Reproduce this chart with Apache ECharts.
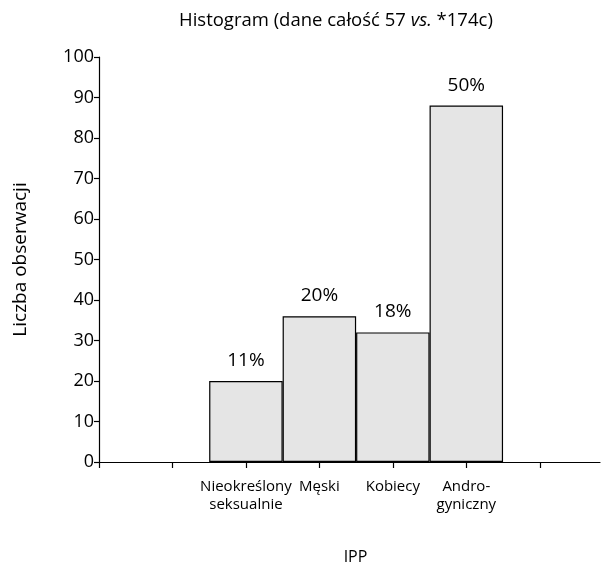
<!DOCTYPE html>
<html>
<head>
<meta charset="utf-8">
<script src="https://cdn.jsdelivr.net/npm/echarts@6/dist/echarts.min.js"></script>
<style>html,body{margin:0;padding:0;background:#fff;}#chart{width:604px;height:570px;}</style>
</head>
<body>
<div id="chart"></div>
<script>
var categories = ['', '', 'Nieokreślony\nseksualnie', 'Męski', 'Kobiecy', 'Andro-\ngyniczny', ''];
var binPositions = [2, 3, 4, 5];
var counts = [20, 36, 32, 88];
var percentLabels = ['11%', '20%', '18%', '50%'];
var yTicks = [0, 10, 20, 30, 40, 50, 60, 70, 80, 90, 100];

var FONT = '"Open Sans", "Noto Sans", sans-serif';
var chart = echarts.init(document.getElementById('chart'));
var seriesData = binPositions.map(function (p, i) { return [p, counts[i]]; });

chart.setOption({
  animation: false,
  backgroundColor: '#ffffff',
  title: {
    text: '{n|Histogram (dane całość 57 }{i|vs.}{n| *174c)}',
    left: 174, top: 6,
    textStyle: {
      rich: {
        n: { fontFamily: FONT, fontSize: 18.5, color: '#000', fontWeight: 'normal' },
        i: { fontFamily: FONT, fontSize: 18.5, color: '#000', fontStyle: 'italic', fontWeight: 'normal' }
      }
    }
  },
  grid: { left: 99, right: 4, top: 57, bottom: 108, containLabel: false },
  xAxis: {
    type: 'value', min: 0, max: 6.82, interval: 1,
    name: 'IPP', nameLocation: 'middle', nameGap: 87,
    nameTextStyle: { fontFamily: FONT, fontSize: 16, color: '#000', padding: [0, 0, 0, 12] },
    axisLine: { show: true, lineStyle: { color: '#000', width: 1.2 } },
    axisTick: { show: true, length: 6, lineStyle: { color: '#000', width: 1.2 }, customValues: [0,1,2,3,4,5,6] },
    axisLabel: {
      customValues: [0,1,2,3,4,5,6],
      formatter: function (v) { return categories[Math.round(v)] || ''; },
      fontFamily: FONT, fontSize: 15, color: '#000', margin: 15, lineHeight: 18.5
    },
    splitLine: { show: false }
  },
  yAxis: {
    type: 'value', min: 0, max: 100, interval: 10,
    name: 'Liczba obserwacji', nameLocation: 'middle', nameGap: 69, nameRotate: 90,
    nameTextStyle: { fontFamily: FONT, fontSize: 19, color: '#000' },
    axisLine: { show: true, lineStyle: { color: '#000', width: 1.2 } },
    axisTick: { show: true, length: 5, lineStyle: { color: '#000', width: 1.2 } },
    axisLabel: { fontFamily: FONT, fontSize: 18, color: '#000', margin: 5 },
    splitLine: { show: false }
  },
  series: [{
    type: 'bar',
    data: seriesData,
    barWidth: 73.5,
    itemStyle: { color: '#e5e5e5', borderColor: '#000', borderWidth: 1.2 },
    label: {
      show: true, position: 'top', distance: 11,
      formatter: function (p) { return percentLabels[p.dataIndex]; },
      fontFamily: FONT, fontSize: 19, color: '#000'
    }
  }]
});
</script>
</body>
</html>
